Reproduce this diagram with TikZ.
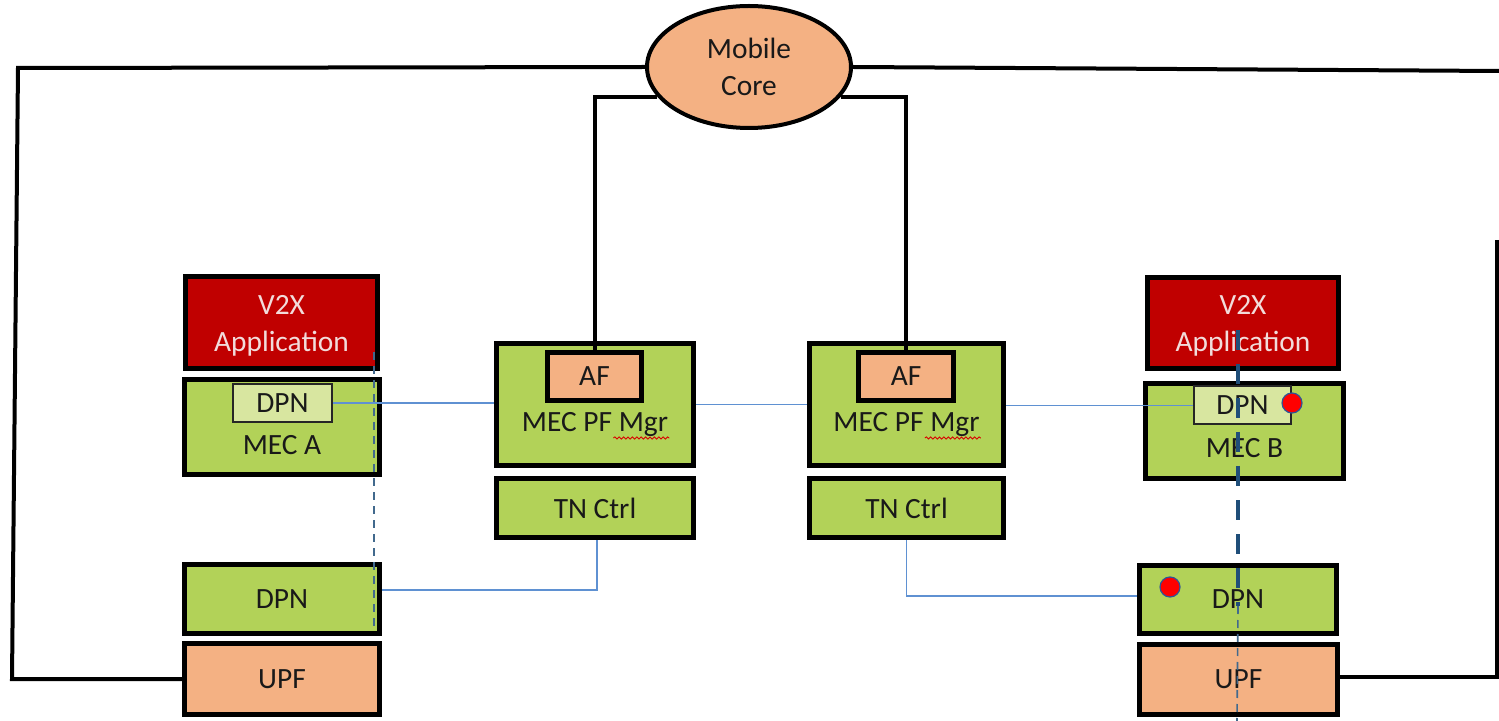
\documentclass[tikz,border=0pt]{standalone}
\usepackage{fontspec}
\setmainfont{Carlito}
\usetikzlibrary{shapes.geometric,decorations.pathmorphing}

\definecolor{unitgreen}{RGB}{178,210,88}
\definecolor{dpnlight}{RGB}{216,230,160}
\definecolor{coreorange}{RGB}{244,177,131}
\definecolor{appred}{RGB}{192,0,0}
\definecolor{apptext}{RGB}{242,220,219}
\definecolor{tnblue}{RGB}{95,145,210}
\definecolor{pathblue}{RGB}{31,78,121}
\definecolor{markred}{RGB}{255,0,0}
\definecolor{markrim}{RGB}{47,85,151}

% rectangle from its outer pixel corners: name, x1, y1, x2, y2, style, text
\newcommand\pixbox[7]{%
  \node[#6, minimum width={(#4-#2-4.8)*0.5pt}, minimum height={(#5-#3-4.8)*0.5pt}]
    (#1) at ({(#2+#4)/2},{(#3+#5)/2}) {#7};}

\begin{document}
\begin{tikzpicture}[x=0.5pt,y=-0.5pt,
  font=\fontsize{14.7}{18.5}\selectfont,
  unit/.style={draw=black, line width=2.4pt, inner sep=0pt, align=center, text=black!90},
  greenunit/.style={unit, fill=unitgreen},
  appunit/.style={unit, fill=appred, text=apptext},
  orangeunit/.style={unit, fill=coreorange},
  innerdpn/.style={draw=black!85, line width=1.1pt, fill=dpnlight, inner sep=0pt, text=black!90},
  caption/.style={anchor=base, inner sep=0pt, text=black!90},
  corelink/.style={line width=2pt, black},
  tnlink/.style={line width=0.8pt, tnblue},
  thinpath/.style={line width=0.8pt, pathblue!85, dash pattern=on 4pt off 3pt},
  thickpath/.style={line width=2.3pt, pathblue, dash pattern=on 10pt off 7pt},
  marker/.style={circle, minimum size=10pt, inner sep=0pt, fill=markred, draw=markrim, line width=0.6pt},
  squiggle/.style={red!85!black, line width=0.45pt, decorate,
    decoration={snake, amplitude=0.55pt, segment length=2.2pt}}]

\useasboundingbox (0,0) rectangle (1499,721);

% mobile core
\node[ellipse, draw=black, line width=2pt, fill=coreorange, inner sep=0pt,
      minimum width=102pt, minimum height=61pt, align=center, text=black!90]
  (core) at (749,67) {Mobile\\Core};

% left site
\pixbox{appA}{183}{274}{380}{371}{appunit}{\rule{0pt}{12.5pt}V2X\\Application}
\pixbox{mecA}{182}{377}{382}{477}{greenunit}{}
\node[innerdpn, minimum width=49.5pt, minimum height=19pt] (dpnAi) at (282.5,403) {DPN};
\node[caption] (mecAlbl) at (282,455) {MEC A};
\pixbox{dpnA}{182}{562}{382}{636}{greenunit}{DPN}
\pixbox{upfA}{182}{641}{382}{717}{orangeunit}{UPF}

% platform managers and transport controllers
\pixbox{pfL}{494}{341}{696}{468}{greenunit}{}
\pixbox{afL}{545}{350}{644}{403}{orangeunit}{AF}
\node[caption] (pfLlbl) at (595,432) {MEC PF Mgr};
\pixbox{tnL}{494}{476}{696}{540}{greenunit}{TN Ctrl}

\pixbox{pfR}{807}{341}{1006}{468}{greenunit}{}
\pixbox{afR}{856}{350}{956}{403}{orangeunit}{AF}
\node[caption] (pfRlbl) at (906.5,432) {MEC PF Mgr};
\pixbox{tnR}{807}{476}{1006}{540}{greenunit}{TN Ctrl}

% right site
\pixbox{appB}{1145}{275}{1341}{371}{appunit}{\rule{0pt}{12.5pt}V2X\\Application}
\pixbox{mecB}{1143}{381}{1346}{481}{greenunit}{}
\node[innerdpn, minimum width=48.5pt, minimum height=19pt] (dpnBi) at (1242.5,405) {DPN};
\node[caption] (mecBlbl) at (1244.5,458) {MEC B};
\pixbox{dpnB}{1137}{563}{1339}{636}{greenunit}{DPN}
\pixbox{upfB}{1137}{642}{1340}{717}{orangeunit}{UPF}

% spelling marks under "Mgr"
\draw[squiggle] ([xshift=-27.5pt,yshift=-3pt]pfLlbl.base east) -- ([xshift=0.5pt,yshift=-3pt]pfLlbl.base east);
\draw[squiggle] ([xshift=-27.5pt,yshift=-3pt]pfRlbl.base east) -- ([xshift=0.5pt,yshift=-3pt]pfRlbl.base east);

% core backbone
\coordinate (frameTL) at (18,68);
\coordinate (frameBL) at (12,679);
\coordinate (frameTR) at (1499,71);
\coordinate (frameRtop) at (1497,240);
\coordinate (frameRbot) at (1497,677);
\draw[corelink, line join=miter] (core.west) -- (frameTL) -- (frameBL) -- (upfA.west);
\draw[corelink] (core.east) -- (frameTR);
\draw[corelink, line join=miter] (frameRtop) -- (frameRbot) -- (frameRbot -| upfB.east);
\draw[corelink, line join=miter] (core.198) -| (afL.north);
\draw[corelink, line join=miter] (core.-18) -| (afR.north);

% transport links
\draw[tnlink] (dpnAi.east) -- (dpnAi.east -| pfL.west);
\draw[tnlink] (pfL.east) -- (pfR.west);
\draw[tnlink] ([yshift=-0.5pt]pfR.east) -- ([yshift=-0.5pt]pfR.east -| dpnBi.west);
\draw[tnlink] ([xshift=1pt]tnL.south) |- ([yshift=4.5pt]dpnA.east);
\draw[tnlink] (tnR.south) |- ([yshift=1.75pt]dpnB.west);

% data paths
\coordinate (pathA1) at (374,352);
\coordinate (pathA2) at (374,630);
\draw[thinpath] (pathA1) -- (pathA2);
\coordinate (pathB1) at (1238,330);
\coordinate (pathB2) at (1238,606);
\coordinate (pathB3) at (1237,721);
\draw[thickpath] (pathB1) -- (pathB2);
\draw[thinpath] (pathB2) -- (pathB3);

% session markers
\node[marker] (markB) at (1292,403) {};
\node[marker] (markB2) at (1170,587) {};
\end{tikzpicture}
\end{document}
